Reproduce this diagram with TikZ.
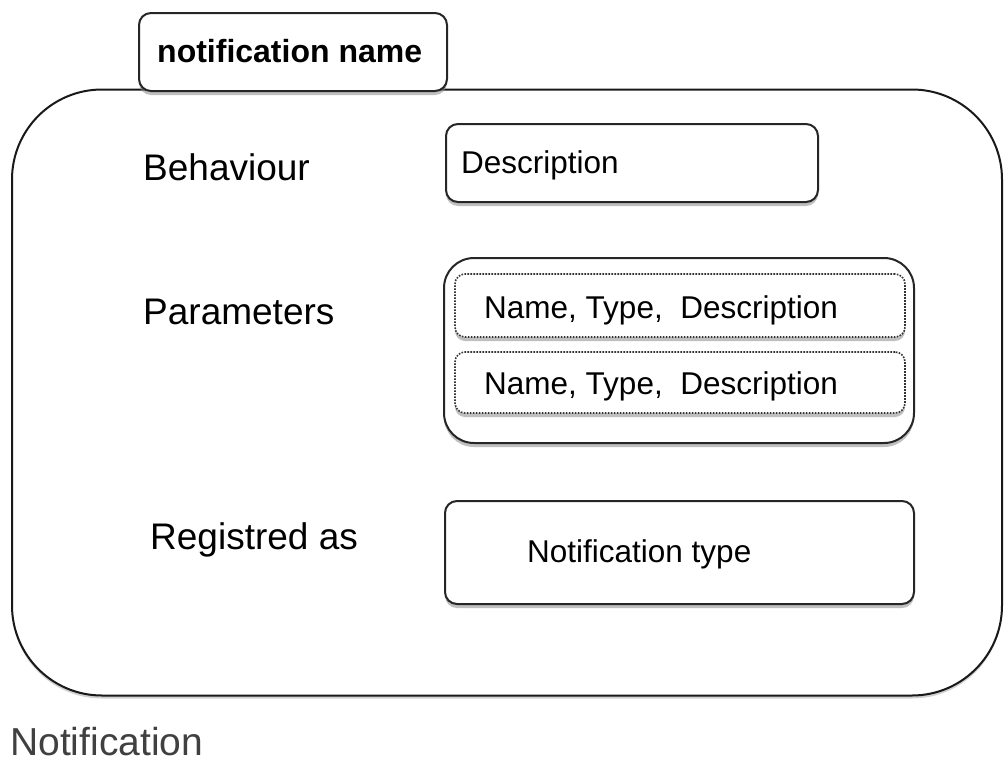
\documentclass[tikz,border=0pt]{standalone}
\usepackage{fontspec}
\setmainfont{Liberation Sans}
\usetikzlibrary{shadows}
\begin{document}
\begin{tikzpicture}[x=1pt,y=-1pt,
  boxshadow/.style={drop shadow={shadow xshift=0pt,shadow yshift=-4pt,fill=black!45,opacity=.55}},
  frame/.style={draw=black!85,line width=2pt,fill=white,rounded corners=12pt,inner sep=0pt,boxshadow},
  dotbox/.style={draw=black!80,line width=1.6pt,dash pattern=on 1.6pt off 1.4pt,fill=white,rounded corners=10pt,inner sep=0pt,boxshadow},
  lbl/.style={anchor=base west,inner sep=0pt,font=\fontsize{37}{41}\selectfont},
  txt/.style={anchor=base west,inner sep=0pt,font=\fontsize{31.5}{35}\selectfont},
]
\useasboundingbox (0,0) rectangle (1004,763);

% outer notification body
\node[draw=black!90,line width=2pt,fill=white,rounded corners=90pt,inner sep=0pt,
      minimum width=990pt,minimum height=606pt,
      drop shadow={shadow xshift=0pt,shadow yshift=-3pt,fill=black!40,opacity=.45}]
      (body) at (507,392.5) {};

% title tab
\node[frame,minimum width=308pt,minimum height=78pt] (title) at (293,52) {};
\node[anchor=base west,inner sep=0pt,font=\fontsize{32}{36}\selectfont\bfseries] (titletext)
      at (157,62) {notification name};

% behaviour row
\node[lbl] (behav) at (143,180) {Behaviour};
\node[frame,minimum width=372pt,minimum height=78pt] (descbox) at (632,163) {};
\node[txt] (desctext) at (461,173) {Description};

% parameters row
\node[lbl] (params) at (143,324) {Parameters};
\node[frame,rounded corners=30pt,minimum width=470pt,minimum height=185pt] (parbox) at (679,350.5) {};
\node[dotbox,minimum width=450pt,minimum height=63pt] (par1) at (680,305.5) {};
\node[dotbox,minimum width=450pt,minimum height=61pt] (par2) at (680,382.5) {};
\node[txt] (par1text) at (484,318) {Name, Type,\ \ Description};
\node[txt] (par2text) at (484,394) {Name, Type,\ \ Description};

% registration row
\node[lbl] (reg) at (150,549) {Registred as};
\node[frame,minimum width=469pt,minimum height=103pt] (regbox) at (679.5,552.5) {};
\node[txt] (regtext) at (527,562) {Notification type};

% caption
\node[anchor=base west,inner sep=0pt,text=black!75,font=\fontsize{39}{43}\selectfont] (caption)
      at (10,755) {Notification};
\end{tikzpicture}
\end{document}
